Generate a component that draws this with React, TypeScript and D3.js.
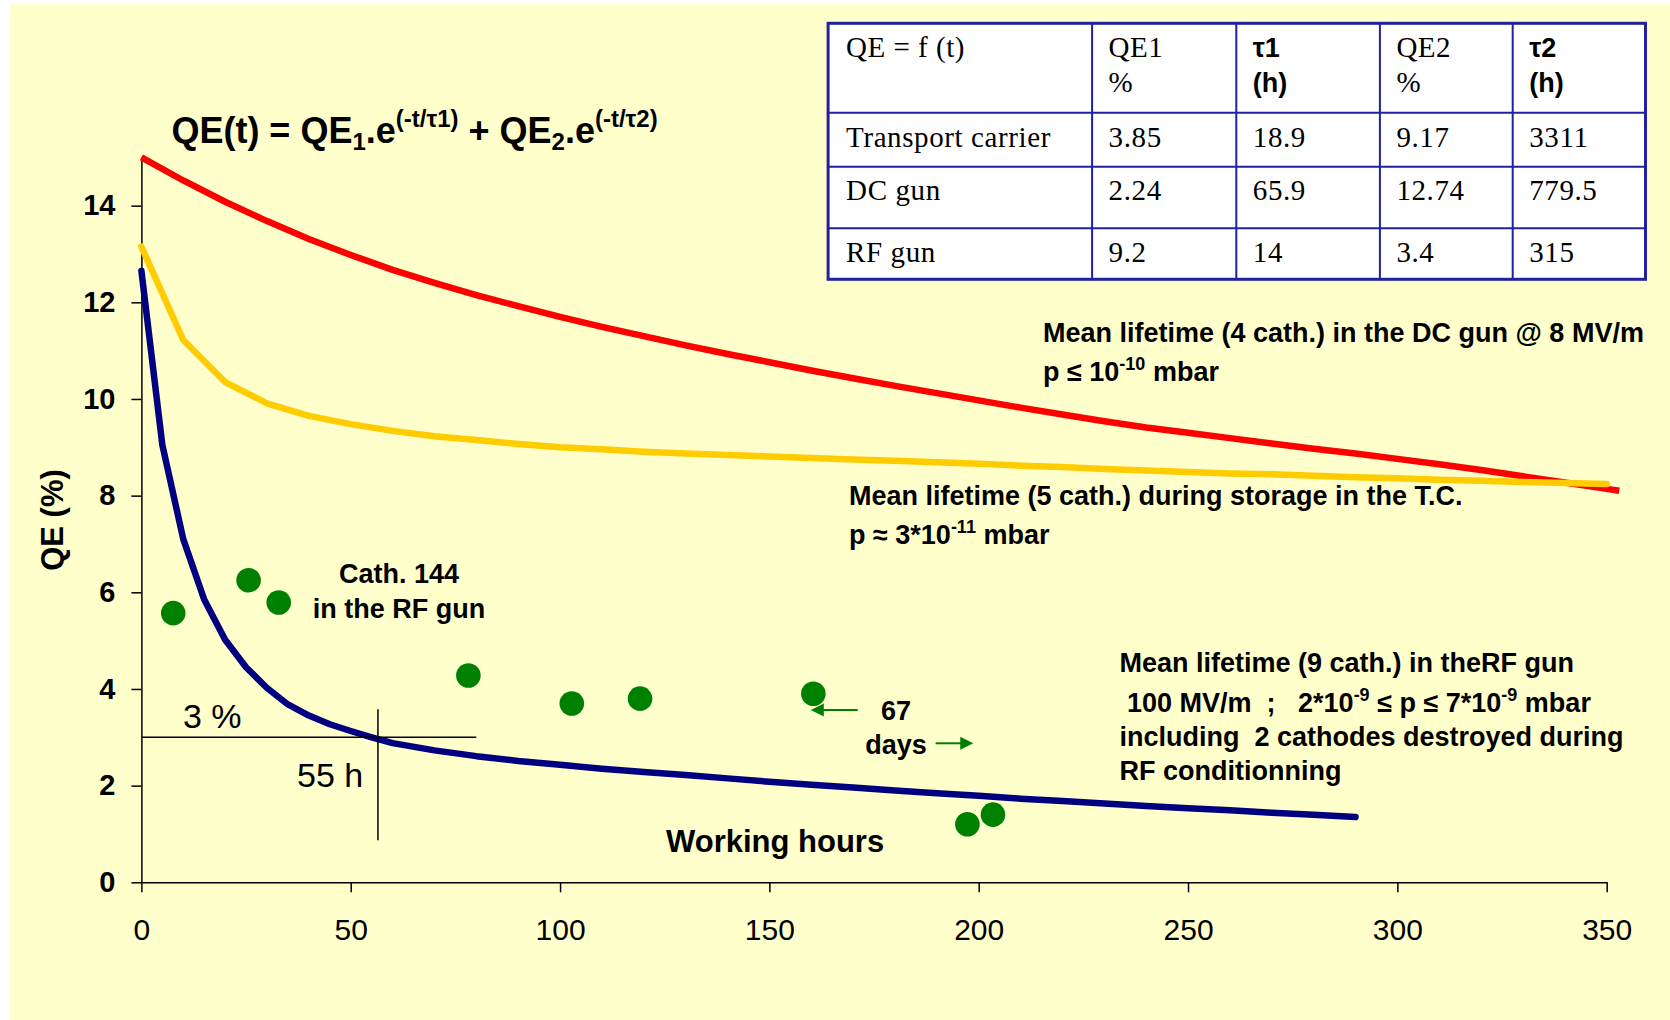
import React, { useEffect, useRef } from "react";
import * as d3 from "d3";

// DC gun curve (red), hours / QE %
const dcHours = [0, 10, 20, 30, 40, 50, 60, 70, 80, 90, 100, 110, 120, 130, 140, 150, 160, 170, 180, 190, 200, 210, 220, 230, 240, 250, 260, 270, 280, 290, 300, 310, 320, 330, 340, 350, 353];
const dcQE = [15.0, 14.52, 14.08, 13.68, 13.31, 12.98, 12.67, 12.4, 12.15, 11.92, 11.7, 11.49, 11.3, 11.11, 10.93, 10.76, 10.59, 10.43, 10.27, 10.12, 9.97, 9.82, 9.68, 9.54, 9.41, 9.3, 9.19, 9.08, 8.97, 8.87, 8.76, 8.65, 8.53, 8.4, 8.27, 8.14, 8.1];

// storage in the transport carrier (yellow)
const tcHours = [0, 10, 20, 30, 40, 50, 60, 70, 80, 90, 100, 110, 120, 130, 140, 150, 160, 170, 180, 190, 200, 210, 220, 230, 240, 250, 260, 270, 280, 290, 300, 310, 320, 330, 340, 350];
const tcQE = [13.15, 11.22, 10.35, 9.91, 9.65, 9.48, 9.34, 9.23, 9.15, 9.07, 9.0, 8.96, 8.91, 8.87, 8.84, 8.81, 8.78, 8.75, 8.72, 8.69, 8.66, 8.62, 8.59, 8.55, 8.52, 8.49, 8.46, 8.44, 8.41, 8.38, 8.36, 8.33, 8.31, 8.28, 8.26, 8.24];

// RF gun mean curve (blue)
const rfHours = [0, 5, 10, 15, 20, 25, 30, 35, 40, 45, 50, 55, 60, 70, 80, 90, 100, 110, 120, 130, 140, 150, 160, 170, 180, 190, 200, 210, 220, 230, 240, 250, 260, 270, 280, 290];
const rfQE = [12.65, 9.05, 7.1, 5.85, 5.02, 4.45, 4.02, 3.68, 3.45, 3.27, 3.13, 3.0, 2.88, 2.73, 2.61, 2.51, 2.43, 2.35, 2.28, 2.22, 2.15, 2.08, 2.02, 1.96, 1.9, 1.84, 1.79, 1.73, 1.68, 1.63, 1.58, 1.53, 1.49, 1.44, 1.4, 1.35];

// cathode 144 in the RF gun (green dots)
const cathHours = [7.6, 25.6, 32.8, 78.1, 102.8, 119.1, 160.5, 197.3, 203.4];
const cathQE = [5.57, 6.25, 5.79, 4.28, 3.7, 3.8, 3.9, 1.2, 1.4];

const xTicks = [0, 50, 100, 150, 200, 250, 300, 350];
const yTicks = [0, 2, 4, 6, 8, 10, 12, 14];

// fit table
const tableHead = [["QE = f (t)"], ["QE1", "%"], ["τ1", "(h)"], ["QE2", "%"], ["τ2", "(h)"]];
const tableRows = [
  ["Transport carrier", "3.85", "18.9", "9.17", "3311"],
  ["DC gun", "2.24", "65.9", "12.74", "779.5"],
  ["RF gun", "9.2", "14", "3.4", "315"],
];

const W = 1670, H = 1020;
const SANS = "'Liberation Sans', Arial, sans-serif";
const SERIF = "'Liberation Serif', 'Times New Roman', serif";

type Part = { t: string; s?: "sup" | "sub" };

const App = () => {
  const svgRef = useRef<SVGSVGElement>(null);

  useEffect(() => {
    const svg = d3.select(svgRef.current);
    svg.selectAll("*").remove();

    const x = d3.scaleLinear().domain([0, 350]).range([141.4, 1606.7]);
    const y = d3.scaleLinear().domain([0, 15]).range([882.3, 157.3]);

    svg.append("rect").attr("x", 10).attr("y", 4).attr("width", W - 10).attr("height", H - 4).attr("fill", "#FFFFCC");

    // rich text with super/subscripts
    const rich = (x0: number, y0: number, parts: Part[], size: number, small: number, up: number, down: number, weight = "bold") => {
      const t = svg.append("text").attr("x", x0).attr("y", y0).attr("font-family", SANS)
        .attr("font-weight", weight).attr("font-size", size).style("white-space", "pre");
      let cur = 0;
      parts.forEach((p) => {
        const off = p.s === "sup" ? -up : p.s === "sub" ? down : 0;
        t.append("tspan").attr("dy", off - cur).attr("font-size", p.s ? small : size).text(p.t);
        cur = off;
      });
      return t;
    };

    // axes
    svg.append("g")
      .attr("transform", `translate(0,${y(0)})`)
      .call(d3.axisBottom(x).tickValues(xTicks).tickSize(10).tickSizeOuter(0))
      .call((g) => {
        g.select(".domain").attr("stroke", "#000").attr("stroke-width", 1.5);
        g.selectAll(".tick line").attr("stroke", "#000").attr("stroke-width", 1.5);
        g.selectAll("text").attr("y", 57.7).attr("dy", 0).attr("fill", "#000")
          .attr("font-family", SANS).attr("font-size", 30);
      });

    svg.append("g")
      .attr("transform", `translate(${x(0)},0)`)
      .call(d3.axisLeft(y).tickValues(yTicks).tickSize(10).tickSizeOuter(0).tickPadding(16))
      .call((g) => {
        g.select(".domain").attr("stroke", "#000").attr("stroke-width", 1.5);
        g.selectAll(".tick line").attr("stroke", "#000").attr("stroke-width", 1.5);
        g.selectAll("text").attr("fill", "#000").attr("font-family", SANS)
          .attr("font-weight", "bold").attr("font-size", 29);
      });

    svg.append("text")
      .attr("transform", `translate(63,520) rotate(-90)`)
      .attr("text-anchor", "middle").attr("font-family", SANS).attr("font-weight", "bold")
      .attr("font-size", 31).text("QE (%)");

    // curves
    const line = d3.line<[number, number]>().x((d) => x(d[0])).y((d) => y(d[1]));
    svg.append("path").datum(d3.zip(dcHours, dcQE) as [number, number][])
      .attr("d", line).attr("fill", "none").attr("stroke", "#FF0000").attr("stroke-width", 6.5);
    svg.append("path").datum(d3.zip(tcHours, tcQE) as [number, number][])
      .attr("d", line).attr("fill", "none").attr("stroke", "#FFCC00").attr("stroke-width", 6.5)
      .attr("stroke-linecap", "round").attr("stroke-linejoin", "round");
    svg.append("path").datum(d3.zip(rfHours, rfQE) as [number, number][])
      .attr("d", line).attr("fill", "none").attr("stroke", "#000080").attr("stroke-width", 6.5)
      .attr("stroke-linecap", "round").attr("stroke-linejoin", "round");

    // 3 % / 55 h guide lines
    svg.append("line").attr("x1", x(0)).attr("x2", x(80)).attr("y1", y(3)).attr("y2", y(3))
      .attr("stroke", "#000").attr("stroke-width", 1.5);
    svg.append("line").attr("x1", x(56.5)).attr("x2", x(56.5)).attr("y1", y(3.58)).attr("y2", y(0.87))
      .attr("stroke", "#000").attr("stroke-width", 1.5);
    svg.append("text").attr("x", 183).attr("y", 728).attr("font-family", SANS).attr("font-size", 34).text("3 %");
    svg.append("text").attr("x", 297).attr("y", 787).attr("font-family", SANS).attr("font-size", 34).text("55 h");

    // cathode 144 points
    svg.append("g").selectAll("circle")
      .data(d3.zip(cathHours, cathQE))
      .join("circle")
      .attr("cx", (d) => x(d[0])).attr("cy", (d) => y(d[1])).attr("r", 12.3).attr("fill", "#008000");

    // 67 days arrows
    const green = "#008000";
    const arrow = (t0: number, t1: number, q: number) => {
      const xa = x(t0), xb = x(t1), yy = y(q);
      const dir = Math.sign(xb - xa);
      svg.append("line").attr("x1", xa).attr("x2", xb - dir * 10).attr("y1", yy).attr("y2", yy)
        .attr("stroke", green).attr("stroke-width", 2);
      svg.append("path")
        .attr("d", `M${xb},${yy}L${xb - dir * 13},${yy - 6.5}L${xb - dir * 13},${yy + 6.5}Z`)
        .attr("fill", green);
    };
    arrow(171.1, 159.9, 3.565);
    arrow(189.7, 198.7, 2.876);

    const bold = (x0: number, y0: number, s: string, size = 27, anchor = "start") =>
      svg.append("text").attr("x", x0).attr("y", y0).attr("font-family", SANS).attr("font-weight", "bold")
        .attr("font-size", size).attr("text-anchor", anchor).style("white-space", "pre").text(s);

    bold(896, 720, "67", 27, "middle");
    bold(896, 754, "days", 27, "middle");
    bold(399, 583, "Cath. 144", 27, "middle");
    bold(399, 618, "in the RF gun", 27, "middle");
    bold(666, 852, "Working hours", 31);

    bold(1043, 342, "Mean lifetime (4 cath.) in the DC gun @ 8 MV/m");
    rich(1043, 381, [{ t: "p ≤ 10" }, { t: "-10", s: "sup" }, { t: " mbar" }], 27, 18, 11, 0);
    bold(849, 505, "Mean lifetime (5 cath.) during storage in the T.C.");
    rich(849, 544, [{ t: "p ≈ 3*10" }, { t: "-11", s: "sup" }, { t: " mbar" }], 27, 18, 11, 0);
    bold(1119.5, 671.5, "Mean lifetime (9 cath.) in theRF gun");
    rich(1119.5, 712, [{ t: " 100 MV/m  ;   2*10" }, { t: "-9", s: "sup" }, { t: " ≤ p ≤ 7*10" }, { t: "-9", s: "sup" }, { t: " mbar" }], 27, 18, 11, 0);
    bold(1119.5, 746, "including  2 cathodes destroyed during");
    bold(1119.5, 780, "RF conditionning");

    // formula
    rich(171.4, 143.3, [
      { t: "QE(t) = QE" }, { t: "1", s: "sub" }, { t: ".e" }, { t: "(-t/τ1)", s: "sup" },
      { t: " + QE" }, { t: "2", s: "sub" }, { t: ".e" }, { t: "(-t/τ2)", s: "sup" },
    ], 36, 24, 16, 7);

    // table
    const colX = [828.1, 1092.1, 1236.3, 1379.9, 1512.7, 1645.5];
    const rowY = [23.3, 112.7, 166.7, 228.3, 279.3];
    const blue = "#2020A0";
    const tbl = svg.append("g");
    tbl.append("rect").attr("x", colX[0]).attr("y", rowY[0])
      .attr("width", colX[5] - colX[0]).attr("height", rowY[4] - rowY[0])
      .attr("fill", "#FFFFFF").attr("stroke", blue).attr("stroke-width", 3);
    colX.slice(1, 5).forEach((cx) => {
      tbl.append("line").attr("x1", cx).attr("x2", cx).attr("y1", rowY[0]).attr("y2", rowY[4])
        .attr("stroke", blue).attr("stroke-width", 2);
    });
    rowY.slice(1, 4).forEach((ry) => {
      tbl.append("line").attr("x1", colX[0]).attr("x2", colX[5]).attr("y1", ry).attr("y2", ry)
        .attr("stroke", blue).attr("stroke-width", 2);
    });
    const headBase = [56.7, 91.7];
    tableHead.forEach((cell, i) => {
      const sans = cell[0].startsWith("τ");
      cell.forEach((s, j) => {
        tbl.append("text").attr("x", colX[i] + (i === 0 ? 18 : 16.5)).attr("y", headBase[j])
          .attr("font-family", sans ? SANS : SERIF).attr("font-weight", sans ? "bold" : "normal")
          .attr("font-size", sans ? 27 : 29).attr("letter-spacing", sans ? 0 : 0.5)
          .style("white-space", "pre").text(s);
      });
    });
    const rowBase = [146.7, 200, 261.7];
    tableRows.forEach((row, r) => {
      row.forEach((s, i) => {
        tbl.append("text").attr("x", colX[i] + (i === 0 ? 18 : 16.5)).attr("y", rowBase[r])
          .attr("font-family", SERIF).attr("font-size", 29).attr("letter-spacing", 0.6).text(s);
      });
    });
  }, []);

  return (
    <svg ref={svgRef} width={W} height={H}
      style={{ position: "absolute", left: 0, top: 0, background: "#FFFFFF" }} />
  );
};

export default App;
